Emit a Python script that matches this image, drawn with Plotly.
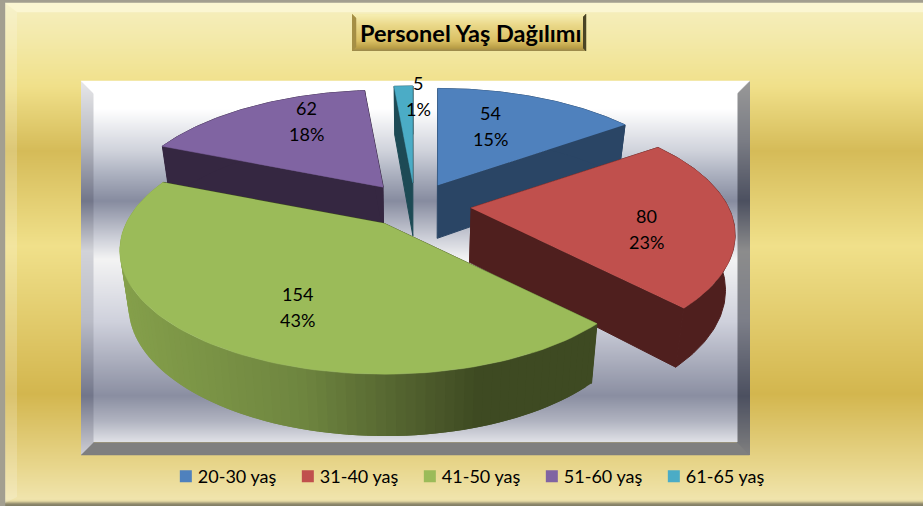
import numpy as np
import plotly.graph_objects as go

# --- data -------------------------------------------------------------
CATEGORIES = ["20-30 yaş", "31-40 yaş", "41-50 yaş", "51-60 yaş", "61-65 yaş"]
VALUES = [54, 80, 154, 62, 5]
PERCENT_LABELS = ["15%", "23%", "43%", "18%", "1%"]
TITLE = "Personel Yaş Dağılımı"

# --- style ------------------------------------------------------------
TOP = ["#4F81BD", "#C0504D", "#9BBB59", "#8064A2", "#4BACC6"]
WALL = ["#2A4565", "#4F1F1E", "#3E4A22", "#352741", "#1D4A55"]
FONT = "Lato"
EXPLODE = [0.20, 0.22, 0.20, 0.20, 0.20]
NUDGE = [(0, 0), (-1, 0), (-1, -2.5), (-2, 0), (0, 0)]
DRAW_ORDER = [3, 4, 0, 1, 2]
LABEL_XY = [(490, 125), (646, 228), (297, 306), (306, 120), (418, 95)]
CX, CY = 415, 205.5
R, K, C = 258, 118, 0.218

fig = go.Figure()


def hexrgb(h):
    return np.array([int(h[i:i + 2], 16) for i in (1, 3, 5)], float)


def vgrad(x0, x1, y0, y1, stops):
    # a smoothed heatmap paints half a cell beyond its first and last samples
    w = x1 - x0
    ys = np.arange(y0 + 0.5, y1, 1.0)
    scale = [[(y - stops[0][0]) / (stops[-1][0] - stops[0][0]), c] for y, c in stops]
    fig.add_trace(go.Heatmap(x=[x0 + w / 4, x0 + 3 * w / 4], y=ys, z=[[y, y] for y in ys], zsmooth="best",
                             colorscale=scale, zmin=stops[0][0], zmax=stops[-1][0],
                             showscale=False, hoverinfo="skip"))


def poly(xs, ys, color, width=0.5):
    fig.add_trace(go.Scatter(x=list(xs), y=list(ys), mode="lines", fill="toself", fillcolor=color,
                             line=dict(color=color, width=width), hoverinfo="skip", showlegend=False))


# --- frame ------------------------------------------------------------
PAGE = [(0, "#F6EFC0"), (40, "#F3E9A8"), (85, "#F0E08A"), (150, "#D5BB58"), (245, "#F0E08A"),
        (393, "#D3B64E"), (470, "#E9D890"), (498, "#F0E4AC"), (500, "#E6DAA4"), (503, "#8F8A6C"), (506, "#77735F")]
vgrad(0, 923, 0, 506, PAGE)
poly([0, 923, 923, 0], [0, 0, 3, 3], "#A39F90")
poly([0, 5, 5, 0], [0, 0, 506, 506], "#A39F90")
poly([5, 923, 923, 17], [3, 3, 12, 12], "#FBF6D2")
poly([5, 17, 17, 5], [3, 12, 497, 503], "rgba(255,255,255,0.18)", 0)

# --- plot panel -------------------------------------------------------
X0, X1, Y0, Y1, B = 81, 749.5, 81, 455, 12.5
vgrad(X0, X0 + B, Y0, Y1, [(81, "#E6E6E8"), (140, "#B8BAC2"), (200, "#72768A"), (250, "#D2D3D8"),
                           (320, "#B9BBC6"), (395, "#72768A"), (455, "#D0D0D6")])
vgrad(X1 - B, X1, Y0, Y1, [(81, "#989898"), (140, "#7A7C84"), (200, "#4C5060"), (250, "#8C8C8C"),
                           (320, "#7C7E88"), (395, "#4C5060"), (455, "#808080")])
vgrad(X0 + B, X1 - B, Y0, Y1 - B, [(81, "#FFFFFF"), (108, "#FFFFFF"), (150, "#CFD2DB"), (175, "#A9AEBD"),
                                   (200, "#868B9F"), (240, "#D2D4DC"), (258, "#F3F3F3"), (320, "#CFD1DC"),
                                   (395, "#8A8EA1"), (420, "#B0B3C0"), (442.5, "#E3E4E9")])
poly([X0, X1, X1 - B, X0 + B], [Y0, Y0, Y0 + B, Y0 + B], "#FFFFFF")
poly([X0, X1, X1 - B, X0 + B], [Y1, Y1, Y1 - B, Y1 - B], "#7F7F7F")

# --- title box --------------------------------------------------------
TX0, TX1, TY0, TY1 = 352, 586, 14, 51
vgrad(TX0, TX1, TY0, TY1, [(14, "#F6EDB0"), (24, "#EAD889"), (40, "#D9BF62"), (47, "#B89C45"), (51, "#8F8050")])
poly([TX1 - 3, TX1, TX1, TX1 - 3], [TY0 + 3, TY0, TY1, TY1 - 3], "#4A4426")
poly([TX0, TX0 + 4, TX0 + 4, TX0], [TY0, TY0 + 4, TY1 - 4, TY1], "#A58F45")


# --- 3-D pie, projected from the values ---------------------------------
def proj(u, v):
    w = 1 + C * v
    return R * np.asarray(u) / w, -K * np.asarray(v) / w


def lower(x, y):
    return CX + (np.asarray(x) - CX) * 0.97, np.asarray(y) + 53 + (np.asarray(y) - 185) * 0.047


edges = np.cumsum([0] + VALUES) / sum(VALUES) * 2 * np.pi
for i in DRAW_ORDER:
    a, b = edges[i], edges[i + 1]
    mid = (a + b) / 2
    ox, oy = proj(EXPLODE[i] * np.sin(mid), EXPLODE[i] * np.cos(mid))
    ax, ay = CX + ox + NUDGE[i][0], CY + oy + NUDGE[i][1]
    t = np.linspace(a, b, 90)
    sx, sy = proj(np.sin(t), np.cos(t))
    x, y = ax + sx, ay + sy
    lx, ly = lower(x, y)
    lax, lay = lower(ax, ay)
    # radial walls
    poly([ax, x[0], lx[0], lax], [ay, y[0], ly[0], lay], WALL[i], 1)
    poly([ax, x[-1], lx[-1], lax], [ay, y[-1], ly[-1], lay], WALL[i], 1)
    # outer wall
    if i == 2:
        ramp = ("#85A04B", "#6F8640", "#4C5A2B", "#3E4A22")
        for j in range(len(t) - 1):
            k2 = min(j + 2, len(t) - 1)
            xm = (x[j] + x[j + 1]) / 2
            rgb = [np.interp(xm, [120, 300, 430, 480], [hexrgb(c)[k] for c in ramp]) for k in range(3)]
            col = "rgb(%d,%d,%d)" % tuple(rgb)
            poly([x[j], x[k2], lx[k2], lx[j]], [y[j], y[k2], ly[k2], ly[j]], col, 0)
    else:
        poly(np.r_[x, lx[::-1]], np.r_[y, ly[::-1]], WALL[i], 1)
    # top face
    poly(np.r_[ax, x], np.r_[ay, y], TOP[i])

# --- legend ------------------------------------------------------------
for name, col in zip(CATEGORIES, TOP):
    fig.add_trace(go.Scatter(x=[None], y=[None], mode="markers", name=name,
                             marker=dict(symbol="square", size=12, color=col)))

# --- text --------------------------------------------------------------
notes = [dict(x=(TX0 + TX1) / 2 + 1, y=33, text="<b>%s</b>" % TITLE, font=dict(size=23.5, color="#000000", family=FONT))]
for (lx_, ly_), v, p in zip(LABEL_XY, VALUES, PERCENT_LABELS):
    notes.append(dict(x=lx_, y=ly_ - 12, text=str(v), font=dict(size=18, color="#000000", family=FONT)))
    notes.append(dict(x=lx_, y=ly_ + 14, text=p, font=dict(size=18, color="#000000", family=FONT)))
for n in notes:
    n.update(xref="x", yref="y", showarrow=False, xanchor="center", yanchor="middle")

fig.update_layout(
    width=923, height=506, margin=dict(l=0, r=0, t=0, b=0),
    paper_bgcolor="#FFFFFF", plot_bgcolor="#FFFFFF",
    xaxis=dict(range=[0, 923], visible=False, fixedrange=True),
    yaxis=dict(range=[506, 0], visible=False, fixedrange=True),
    annotations=notes, hovermode=False,
    showlegend=True,
    legend=dict(orientation="h", x=0.171, y=0.095, xanchor="left", yanchor="top",
                bgcolor="rgba(0,0,0,0)", entrywidth=77, entrywidthmode="pixels",
                itemclick=False, itemdoubleclick=False,
                font=dict(family=FONT, size=18, color="#000000")),
)
# the reference sets its legend swatches closer to their labels than Plotly's minimum gap
POST = """document.body.style.margin='0';
document.querySelectorAll('.legendsymbols').forEach(function(n){n.setAttribute('transform','translate(8,0)');});"""
fig.write_html("out.html", config=dict(displayModeBar=False), post_script=POST)
